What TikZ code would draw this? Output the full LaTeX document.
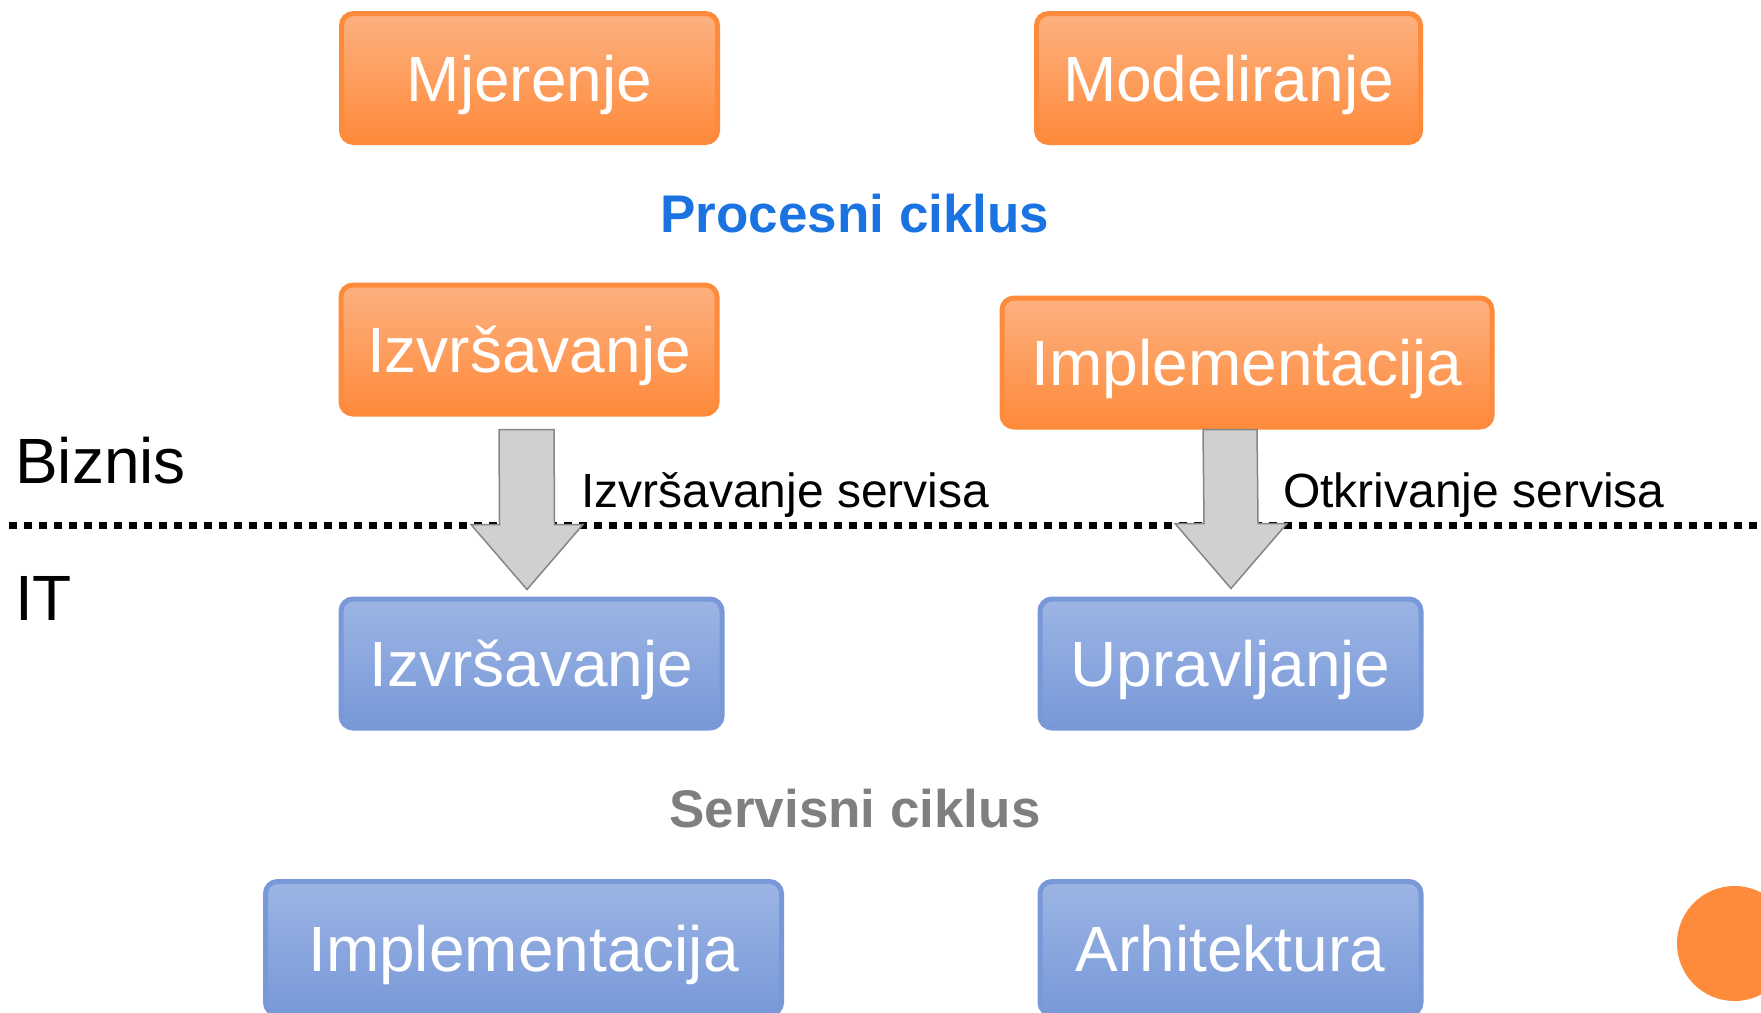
\documentclass[tikz,border=0pt]{standalone}
\usepackage{fontspec}
\setmainfont{Liberation Sans}
\usetikzlibrary{calc}
\definecolor{oborder}{HTML}{FE8B3B}
\definecolor{otop}{HTML}{FDB180}
\definecolor{obot}{HTML}{FE8A3B}
\definecolor{bborder}{HTML}{7898D8}
\definecolor{btop}{HTML}{9CB5E4}
\definecolor{bbot}{HTML}{7898D8}
\definecolor{procblue}{HTML}{1A73E0}
\definecolor{servgray}{HTML}{7F7F7F}
\definecolor{arrfill}{HTML}{D0D0D0}
\definecolor{arrline}{HTML}{858585}
\tikzset{
  boxbase/.style={line width=5pt, rounded corners=12pt, text=white,
    font=\fontsize{64}{70}\selectfont, text height=46pt, text depth=0pt,
    inner sep=0pt, minimum height=129pt},
  obox/.style={boxbase, draw=oborder, top color=otop, bottom color=obot},
  bbox/.style={boxbase, draw=bborder, top color=btop, bottom color=bbot},
  cyctitle/.style={font=\fontsize{53}{60}\selectfont\bfseries, text height=38pt, text depth=0pt, inner sep=0pt},
  sidelabel/.style={font=\fontsize{64}{70}\selectfont, inner sep=0pt, anchor=base west},
  arrlabel/.style={font=\fontsize{48}{52}\selectfont, inner sep=0pt, anchor=base west},
  blockarrow/.style={fill=arrfill, draw=arrline, line width=1.5pt, line join=miter},
  dotline/.style={line width=7pt, dash pattern=on 7.5pt off 7.5pt}
}
\begin{document}
\begin{tikzpicture}[x=1pt,y=-1pt]
\useasboundingbox (0,0) rectangle (1761,1012);
% process cycle boxes
\node[obox, minimum width=376pt] (mj) at (529.5,78) {Mjerenje};
\node[obox, minimum width=384pt] (mo) at (1228.5,78) {Modeliranje};
\node[cyctitle, text=procblue] (proc) at (855,213) {Procesni ciklus};
\node[obox, minimum width=376pt] (izO) at (529,349.5) {Izvršavanje};
\node[obox, minimum width=490pt] (imO) at (1247,362.5) {Implementacija};
% side labels
\node[sidelabel] (biz) at (15,483) {Biznis};
\node[sidelabel] (it) at (15,620) {IT};
% dotted separator
\coordinate (dlA) at (9,525.5);
\coordinate (dlB) at (1761,525.5);
\draw[dotline] (dlA) -- (dlB);
% service cycle boxes
\node[bbox, minimum width=381pt] (izB) at (531.5,663.5) {Izvršavanje};
\node[bbox, minimum width=381pt] (up) at (1230.5,663.5) {Upravljanje};
\node[cyctitle, text=servgray] (serv) at (855,808.5) {Servisni ciklus};
\node[bbox, minimum width=516pt, minimum height=133pt] (imB) at (523.5,948) {Implementacija};
\node[bbox, minimum width=381pt, minimum height=133pt] (ar) at (1230.5,948) {Arhitektura};
% block arrows
\coordinate (a1s) at ($(izO.south)+(-2.5,13)$);
\coordinate (a1t) at ($(izB.north)+(-4.5,-7)$);
\draw[blockarrow] ($(a1s)+(-27.5,0)$) -- ($(a1s)+(27.5,0)$) -- ($(a1t)+(27.5,-65)$) -- ($(a1t)+(56,-65)$) -- (a1t) -- ($(a1t)+(-56,-65)$) -- ($(a1t)+(-27.5,-65)$) -- cycle;
\coordinate (a2s) at ($(imO.south)+(-17,0)$);
\coordinate (a2t) at ($(up.north)+(0.5,-8)$);
\draw[blockarrow] ($(a2s)+(-27,0)$) -- ($(a2s)+(27,0)$) -- ($(a2t)+(27,-65)$) -- ($(a2t)+(56,-65)$) -- (a2t) -- ($(a2t)+(-56,-65)$) -- ($(a2t)+(-27,-65)$) -- cycle;
\node[arrlabel] (l1) at (581,507) {Izvršavanje servisa};
\node[arrlabel] (l2) at (1283,507) {Otkrivanje servisa};
% decorative circle
\fill[oborder] (1734.5,943.5) circle (57.5);
\end{tikzpicture}
\end{document}
